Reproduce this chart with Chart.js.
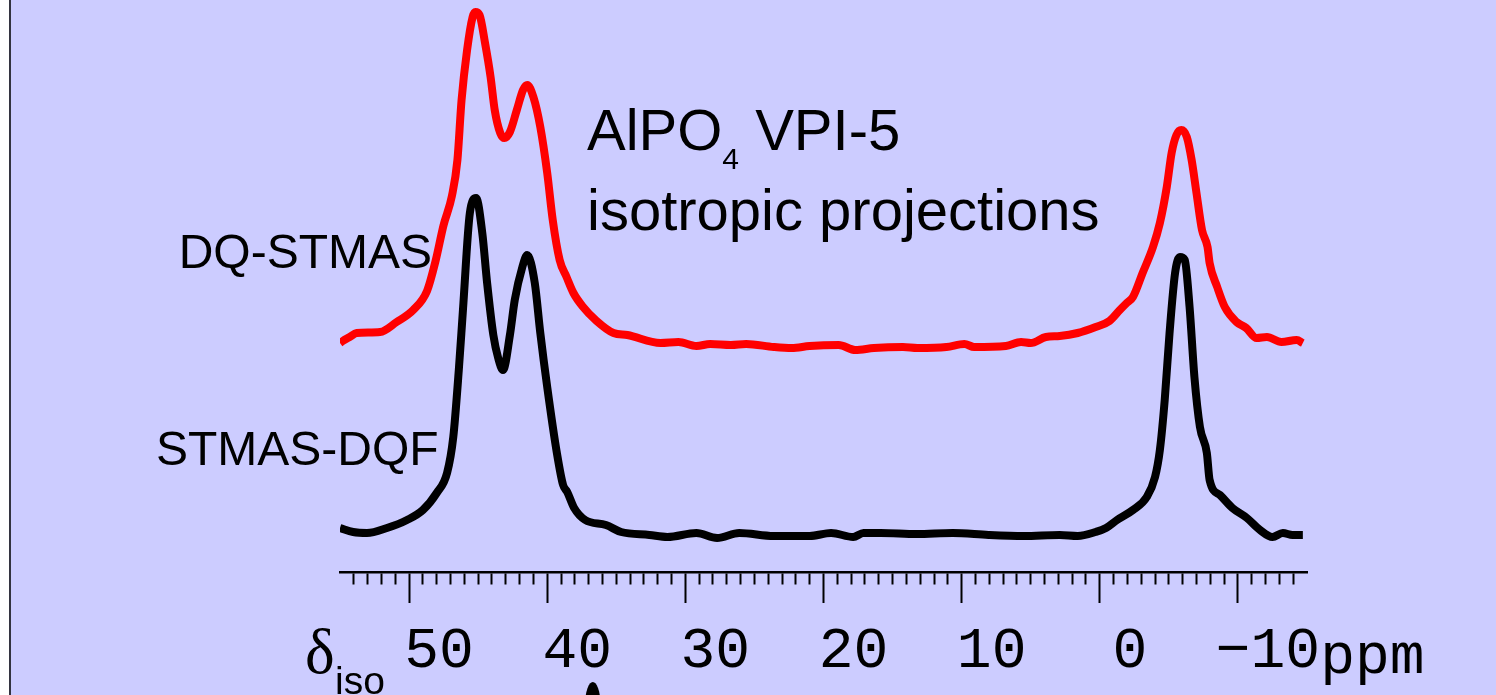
<!DOCTYPE html>
<html>
<head>
<meta charset="utf-8">
<script src="https://cdn.jsdelivr.net/npm/chart.js@4.4.0/dist/chart.umd.min.js"></script>
<style>
    html, body { margin: 0; padding: 0; background: #fff; overflow: hidden; }
    canvas { display: block; }
</style>
</head>
<body>
<canvas id="spectrum" width="1496" height="695"></canvas>
<script>
// DQ-STMAS projektio (punainen), kemiallinen siirtymä ppm ja intensiteetti
const dqPpm = [55.0, 54.8, 54.3, 53.8, 52.1, 50.9, 49.7, 48.7, 48.1, 47.5, 46.9, 46.5, 46.2, 45.8, 45.4, 45.2,
    44.9, 44.5, 44.1, 43.8, 43.4, 43.1, 42.7, 42.2, 41.75, 41.45, 41.0, 40.5, 40.0, 39.6, 39.1, 38.6, 38.1,
    37.4, 36.5, 35.2, 34.2, 31.8, 30.5, 29.2, 28.2, 26.7, 25.6, 23.6, 22.3, 21.0, 18.9, 17.7, 16.35, 14.25,
    13.2, 11.1, 9.8, 9.1, 6.8, 5.7, 5.0, 3.9, 2.9, 1.6, 0.3, -0.7, -1.45, -1.95, -2.4, -3.1, -3.85, -4.35,
    -4.85, -5.2, -5.55, -5.9, -6.3, -6.65, -7.0, -7.4, -7.8, -7.95, -8.5, -9.05, -9.9, -10.6, -11.35, -12.1,
    -13.15, -14.25, -14.7];
const dqInt = [229, 231, 235, 239, 240, 250, 262, 281, 310, 347, 376, 412, 472, 522, 555, 560,
    557, 529, 495, 462, 439, 434, 440, 462, 482, 487, 475, 445, 399, 352, 312, 295, 279,
    265, 252, 239, 237, 229, 230, 226, 228, 227, 228, 225, 224, 226, 227, 222, 224, 225,
    224, 225, 228, 225, 226, 230, 229, 235, 236, 239, 245, 251, 262, 269, 275, 299, 325, 349,
    385, 419, 437, 442, 435, 412, 379, 342, 325, 309, 285, 265, 250, 244, 234, 235,
    230, 232, 229];

// STMAS-DQF projektio (musta)
const dqfPpm = [55.0, 54.05, 53.05, 51.6, 50.15, 49.0, 48.0, 47.25, 46.8, 46.4, 46.1, 45.6, 45.15, 44.7,
    44.35, 43.9, 43.55, 43.2, 42.7, 42.35, 41.8, 41.45, 40.9, 40.5, 40.0, 39.3, 38.85, 38.55, 38.05, 37.25,
    35.75, 34.65, 32.6, 31.3, 29.2, 27.7, 26.1, 23.6, 21.0, 19.45, 17.85, 17.1, 15.85, 13.25, 10.65, 8.05,
    5.5, 2.9, 1.6, 0.3, -0.45, -1.25, -2.4, -3.4, -4.0, -4.35, -4.7, -5.05, -5.45, -5.8, -6.15, -6.5, -6.85,
    -7.25, -7.75, -7.95, -8.7, -9.6, -10.65, -11.6, -12.5, -13.25, -13.95, -14.7];
const dqfInt = [44, 40, 39, 44, 52, 62, 79, 99, 135, 202, 262, 359, 374, 339,
    289, 237, 214, 202, 237, 272, 305, 317, 289, 239, 185, 119, 87, 80, 64, 52,
    47, 40, 37, 35, 39, 34, 39, 36, 36, 39, 35, 39, 39, 38, 39, 37,
    36, 37, 36, 40, 44, 52, 62, 75, 95, 122, 172, 239, 299, 315, 312, 265, 195,
    145, 119, 92, 77, 64, 54, 42, 35, 39, 37, 37];

// Akselin pääjaot, joihin tulee numero
const majorTicks = [50, 40, 30, 20, 10, 0, -10];

function tickText(v) {
    return v < 0 ? "\u2212" + Math.abs(v) : String(v);
}

// Taustaväri ja vasen reuna
const backgroundPlugin = {
    id: "background",
    beforeDraw(chart) {
        const ctx = chart.ctx;
        ctx.save();
        ctx.fillStyle = "#ffffff";
        ctx.fillRect(0, 0, 9, chart.height);
        ctx.fillStyle = "#333340";
        ctx.fillRect(9, 0, 2, chart.height);
        ctx.fillStyle = "#ccccff";
        ctx.fillRect(11, 0, chart.width - 11, chart.height);
        ctx.restore();
    }
};

// Otsikot ja muut tekstit
const textPlugin = {
    id: "texts",
    afterDraw(chart) {
        const ctx = chart.ctx;
        const xs = chart.scales.x;
        ctx.save();
        ctx.fillStyle = "#000";
        ctx.textBaseline = "alphabetic";
        ctx.textAlign = "left";

        // AlPO4 VPI-5
        let tx = 587;
        ctx.font = "58px 'Liberation Sans'";
        ctx.fillText("AlPO", tx, 150);
        tx += ctx.measureText("AlPO").width;
        ctx.font = "30px 'Liberation Sans'";
        ctx.fillText("4", tx, 169);
        tx += ctx.measureText("4").width;
        ctx.font = "58px 'Liberation Sans'";
        ctx.fillText(" VPI-5", tx, 150);
        ctx.fillText("isotropic projections", 587, 230);

        // Sarjojen nimet
        ctx.font = "48px 'Liberation Sans'";
        ctx.textAlign = "right";
        ctx.fillText("DQ-STMAS", 432, 268);
        ctx.textAlign = "left";
        ctx.fillText("STMAS-DQF", 156, 465);

        // delta iso
        ctx.font = "63px 'Liberation Serif'";
        ctx.fillText("\u03b4", 305, 673);
        ctx.font = "39px 'Liberation Sans'";
        ctx.fillText("iso", 335, 694);

        // ppm viimeisen numeron perään
        ctx.font = "58px 'Liberation Mono'";
        const lastW = ctx.measureText(tickText(-10)).width;
        ctx.fillText("ppm", xs.getPixelForValue(-10) + 30 + lastW / 2, 673);

        // musta merkki 40:n alla
        ctx.beginPath();
        ctx.ellipse(xs.getPixelForValue(36.7), 703, 7.5, 21, 0, 0, Math.PI * 2);
        ctx.fill();
        ctx.restore();
    }
};

new Chart(document.getElementById("spectrum"), {
    type: "line",
    data: {
        datasets: [
            {
                label: "DQ-STMAS",
                data: dqPpm.map((p, i) => ({ x: p, y: dqInt[i] })),
                borderColor: "#ff0000",
                borderWidth: 8,
                pointRadius: 0,
                cubicInterpolationMode: "monotone",
                borderJoinStyle: "round"
            },
            {
                label: "STMAS-DQF",
                data: dqfPpm.map((p, i) => ({ x: p, y: dqfInt[i] })),
                borderColor: "#000000",
                borderWidth: 8,
                pointRadius: 0,
                cubicInterpolationMode: "monotone",
                borderJoinStyle: "round"
            }
        ]
    },
    options: {
        responsive: false,
        animation: false,
        devicePixelRatio: 1,
        layout: { padding: { left: 340, right: 189, top: 0, bottom: 0 } },
        plugins: {
            legend: { display: false },
            tooltip: { enabled: false }
        },
        scales: {
            x: {
                type: "linear",
                reverse: true,
                min: -15,
                max: 55,
                border: { display: true, color: "#000", width: 2.5 },
                grid: {
                    drawOnChartArea: false,
                    drawTicks: true,
                    tickLength: 31,
                    tickWidth: 2,
                    tickColor: c => (c.tick && (c.tick.value === 55 || c.tick.value === -15)) ? "rgba(0,0,0,0)" : "#000",
                    tickBorderDash: c => (c.tick && majorTicks.includes(c.tick.value)) ? [] : [11, 100]
                },
                ticks: {
                    stepSize: 1,
                    autoSkip: false,
                    maxRotation: 0,
                    minRotation: 0,
                    labelOffset: 30,
                    padding: 14,
                    color: "#000",
                    font: { family: "'Liberation Mono'", size: 58 },
                    callback: v => majorTicks.includes(v) ? tickText(v) : ""
                },
                afterFit: s => { s.height = 123; }
            },
            y: { display: false, min: 0, max: 572 }
        }
    },
    plugins: [backgroundPlugin, textPlugin]
});
</script>
</body>
</html>
